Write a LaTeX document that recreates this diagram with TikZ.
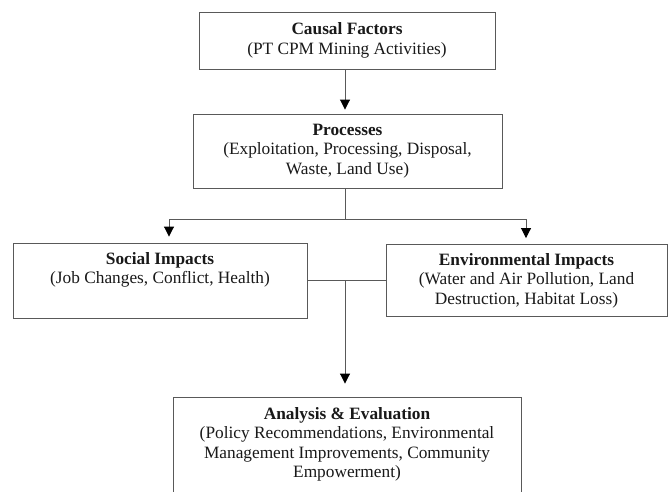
\documentclass[tikz,border=0pt]{standalone}
\usepackage{fontspec}
\setmainfont{Liberation Serif}
\usetikzlibrary{arrows.meta}
\begin{document}
\begin{tikzpicture}[x=1pt,y=-1pt,
  box/.style={draw=black!65, line width=0.9pt, rectangle, inner sep=0pt, align=center,
    font=\fontsize{17.3}{19.5}\selectfont, text=black!90},
  txt/.style={inner sep=0pt, align=center, font=\fontsize{17.3}{19.5}\selectfont, text=black!90},
  conn/.style={draw=black!65, line width=0.9pt},
  arr/.style={conn, -{Triangle[width=10pt,length=10pt,color=black]}}
]
\useasboundingbox (0,0) rectangle (669,491);
\clip (0,0) rectangle (669,491);
\fill[white] (0,0) rectangle (669,491);

\node[box, minimum width=296pt, minimum height=57pt] (causal) at (347,40.5)
  {\textbf{Causal Factors}\\(PT CPM Mining Activities)};
\node[box, minimum width=309pt, minimum height=74pt] (proc) at (347.5,151)
  {\textbf{Processes}\\(Exploitation, Processing, Disposal,\\Waste, Land Use)};
\node[box, minimum width=294pt, minimum height=75pt] (social) at (160,280.5)
  {\textbf{Social Impacts}\\(Job Changes, Conflict, Health)\\\strut};
\node[box, minimum width=281pt, minimum height=72pt] (env) at (526.5,280.5)
  {\textbf{Environmental Impacts}\\(Water and Air Pollution, Land\\Destruction, Habitat Loss)};
\node[box, minimum width=348pt, minimum height=123pt] (ana) at (347,458.5) {};
\node[txt] (anat) at (347,444.5)
  {\textbf{Analysis \& Evaluation}\\(Policy Recommendations, Environmental\\Management Improvements, Community\\Empowerment)};

\coordinate (bl) at (169,219);
\coordinate (br) at (526,219);
\coordinate (join) at (345,280.5);

\draw[arr, shorten >=4pt] (causal.south -| join) -- (proc.north -| join);
\draw[conn] (proc.south -| join) -- (bl -| join);
\draw[conn] (bl) -- (br);
\draw[arr, shorten >=6pt] (bl) -- (bl |- social.north);
\draw[arr, shorten >=6pt] (br) -- (br |- env.north);
\draw[conn] (social.east) -- (env.west);
\draw[arr, shorten >=13pt] (join) -- (join |- ana.north);
\end{tikzpicture}
\end{document}
